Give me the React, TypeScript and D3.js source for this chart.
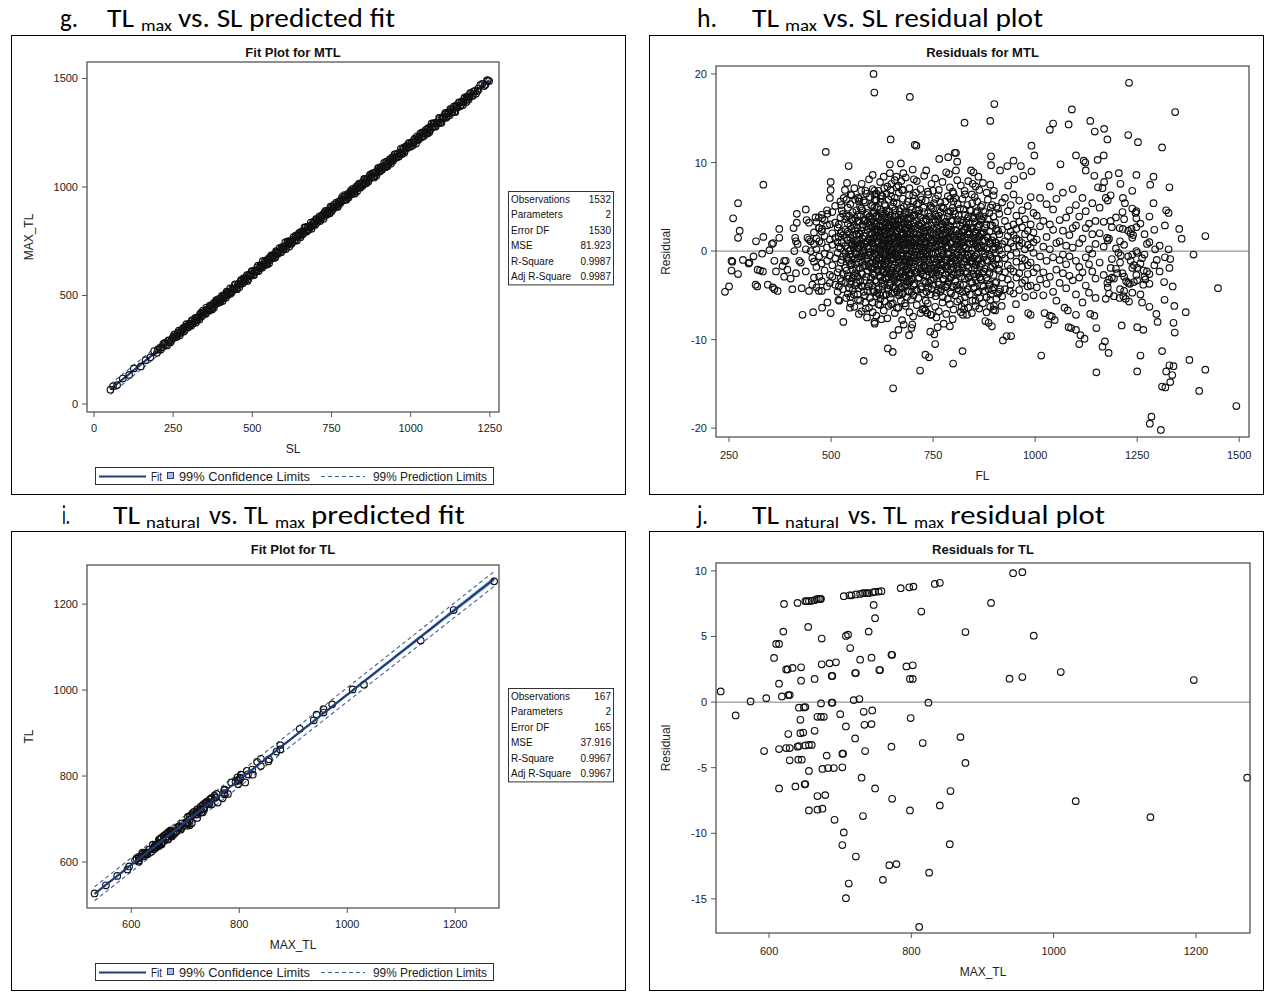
import React from "react";
import * as d3 from "d3";

// ---------- data ----------

// g: SL vs MAX_TL, points as [SL, residual about the fitted line]
const gFit = { b0: 6, b1: 1.19, mse: 81.923, n: 1532, t: 2.579 };
const gPoints: [number, number][] = [
  [52,-2],[60,4],[73,-6],[91,3],[111,-4],[126,8],[148,-9],[163,2],[178,-3],[190,12],[199,-7],[208,5],[216,-1],[224,9],[231,-11],[238,3],[244,-5],[251,7],[257,0],[262,-8],[268,13],[273,-3],[279,4],[284,-10],[289,6],[294,-2],
  [300,6],[304,-3],[309,11],[313,-8],[318,1],[322,-14],[326,4],[331,-2],[335,9],[340,-6],[344,15],[348,-1],[353,-10],[357,5],[362,-4],[366,12],[371,-7],[375,2],[379,-12],[384,7],[388,-3],[393,10],[397,-9],[401,3],
  [406,-15],[410,8],[415,-1],[419,13],[423,-6],[428,0],[432,-11],[437,6],[441,-4],[445,16],[450,-8],[454,2],[459,-13],[463,9],[467,-2],[472,11],[476,-7],[481,4],[485,-17],[489,7],[494,-3],[498,14],
  [503,-9],[507,1],[511,-5],[516,10],[520,-12],[525,5],[529,-1],[533,18],[538,-8],[542,3],[547,-14],[551,8],[555,-4],[560,12],[564,-6],[569,0],[573,-10],[577,7],[582,-2],[586,15],[591,-11],[595,4],[599,-7],
  [604,20],[608,-3],[613,9],[617,-15],[621,2],[626,-5],[630,13],[635,-9],[639,6],[643,-1],[648,11],[652,-13],[657,3],[661,-6],[665,17],[670,-4],[674,8],[679,-10],[683,1],[687,-16],[692,10],[696,-2],
  [701,12],[705,-8],[709,5],[714,-12],[718,0],[723,7],[727,-5],[731,14],[736,-9],[740,3],[745,-14],[749,9],[753,-3],[758,11],[762,-7],[767,2],[771,-11],[775,6],[780,-1],[784,16],[789,-6],[793,4],[797,-13],
  [802,8],[806,-4],[811,12],[815,-8],[819,1],[824,-17],[828,10],[833,-2],[837,14],[841,-10],[846,5],[850,-5],[855,9],[859,-12],[863,3],[868,-7],[872,13],[877,-1],[881,7],[885,-15],[890,2],[894,-4],[899,11],
  [903,-9],[907,6],[912,-3],[916,15],[921,-11],[925,0],[929,-6],[934,10],[938,-14],[943,4],[947,-2],[951,12],[956,-8],[960,7],[965,-5],[969,16],[973,-12],[978,3],[982,-7],[987,9],[991,-1],[995,13],
  [1000,-10],[1004,5],[1009,-4],[1013,11],[1017,-16],[1022,2],[1026,-6],[1031,14],[1035,-9],[1039,7],[1044,-2],[1048,10],[1053,-13],[1057,4],[1061,-7],[1066,17],[1070,-3],[1075,8],[1079,-11],[1083,1],[1088,-5],
  [1092,12],[1097,-15],[1101,6],[1105,-1],[1110,15],[1114,-8],[1119,3],[1123,-12],[1127,9],[1132,-4],[1136,13],[1141,-18],[1145,5],[1149,-6],[1154,11],[1158,-10],[1163,2],[1167,-3],[1171,14],[1176,-14],
  [1180,7],[1185,-2],[1190,10],[1196,-9],[1203,4],[1211,-5],[1220,12],[1232,-7],[1241,8],[1248,-3],
  [202,4],[211,-6],[219,10],[227,-2],[235,7],[241,-9],[248,1],[254,12],[260,-4],[265,6],[271,-12],[276,2],[282,9],[287,-5],[292,14],[297,-7],[302,0],[307,-11],[311,8],[316,-3],[320,10],[324,-6],[329,3],
  [333,-13],[338,12],[342,-4],[346,6],[351,-8],[355,16],[360,-1],[364,-9],[369,5],[373,-14],[377,9],[382,-2],[386,13],[391,-6],[395,1],[399,-10],[404,11],[408,-5],[413,4],[417,-12],[421,7],[426,-3],
  [430,15],[435,-8],[439,2],[443,-6],[448,10],[452,-15],[457,5],[461,-2],[465,12],[470,-9],[474,3],[479,-4],[483,13],[487,-11],[492,6],[496,-1],[501,9],[505,-14],[509,4],[514,-6],[518,15],[523,-3],
  [527,7],[531,-10],[536,1],[540,12],[545,-7],[549,3],[553,-16],[558,10],[562,-2],[567,6],[571,-12],[575,14],[580,-5],[584,2],[589,-8],[593,11],[597,-3],[602,5],[606,-13],[611,16],[615,-1],[619,8],
  [624,-10],[628,3],[633,-6],[637,12],[641,-15],[646,6],[650,-3],[655,9],[659,-8],[663,1],[668,13],[672,-11],[677,4],[681,-2],[685,15],[690,-7],[694,2],[699,-12],[703,8],[707,-4],[712,11],[716,-9],
  [721,3],[725,-15],[729,10],[734,-1],[738,6],[743,-7],[747,14],[751,-10],[756,2],[760,-4],[765,12],[769,-13],[773,5],[778,-6],[782,9],[787,-2],[791,15],[795,-9],[800,1],[804,-11],[809,7],[813,-3],
  [817,13],[822,-7],[826,4],[831,-14],[835,10],[839,-1],[844,6],[848,-10],[853,16],[857,-5],[861,2],[866,-12],[870,9],[875,-3],[879,11],[883,-8],[888,5],[892,-15],[897,13],[901,-1],[905,7],[910,-10],
  [914,2],[919,-6],[923,12],[927,-13],[932,4],[936,-3],[941,10],[945,-9],[949,15],[954,-2],[958,6],[963,-11],[967,1],[971,-5],[976,13],[980,-14],[985,8],[989,-3],[993,11],[998,-7],[1002,2],[1007,-12],
  [1011,9],[1015,-1],[1020,14],[1024,-8],[1028,5],[1033,-4],[1037,12],[1042,-11],[1046,3],[1050,-6],[1055,10],[1059,-14],[1064,6],[1068,-2],[1072,13],[1077,-9],[1081,4],[1086,-5],[1090,15],[1094,-12],
  [1099,2],[1103,-3],[1108,11],[1112,-10],[1116,7],[1121,-1],[1125,14],[1130,-7],[1134,3],[1138,-13],[1143,9],[1147,-4],[1152,12],[1156,-8],[1160,5],[1165,-15],[1169,10],[1174,-2],[1178,6],[1183,-11],
  [1188,13],[1193,-5],[1199,8],[1206,-12],[1214,3],[1226,10],[1236,-6],[1244,5],
];
const gStats: [string, string][] = [
  ["Observations", "1532"], ["Parameters", "2"], ["Error DF", "1530"],
  ["MSE", "81.923"], ["R-Square", "0.9987"], ["Adj R-Square", "0.9987"],
];

// h: residuals for MTL vs FL, scattered points
const hPoints: [number, number][] = [
  [604,20.0],[606,17.9],[693,17.4],[827,14.5],[487,11.2],[646,12.6],[705,12.0],[709,11.9],[334,7.5],[272,5.4],[260,3.7],[272,1.5],[276,2.3],[256,-1.1],[258,-1.2],[256,-2.2],[272,-2.6],[240,-4.6],[250,-4.0],
  [284,-1.0],[298,-1.4],[300,-1.3],[310,-0.6],[316,1.1],[334,1.6],[331,-0.3],[320,-2.1],[326,-2.2],[333,-2.3],[315,-3.8],[319,-4.0],[345,-3.8],[357,-4.1],[361,-4.3],[369,-4.5],[358,0.9],[355,0.8],[349,0.1],
  [361,-1.1],[365,-2.3],[373,2.5],[373,1.5],[385,-1.1],[389,-1.1],[381,-1.7],[393,-2.1],[385,-2.9],[401,-3.1],[405,-4.3],[408,2.6],[416,3.2],[416,4.2],[412,1.5],[414,1.1],[418,0.8],[410,0.0],[422,-1.1],
  [426,-1.3],[414,-2.5],[438,4.7],[440,3.5],[446,3.2],[442,1.5],[446,1.3],[450,1.1],[438,0.2],[450,0.0],[454,-0.8],[438,-2.3],[428,-4.2],[446,-4.5],[454,-3.8],[430,-7.2],[456,-6.9],[462,3.8],[470,3.8],
  [478,3.7],[470,2.6],[478,2.5],[491,4.2],[499,7.8],[499,6.9],[497,6.0],[543,9.6],[539,7.7],[534,6.9],[531,6.0],[525,5.2],[574,6.8],[580,5.7],[569,5.9],[606,6.8],[607,5.8],[606,4.9],[592,3.8],[630,7.1],
  [644,9.8],[671,9.9],[644,8.8],[660,8.4],[672,7.9],[648,7.6],[660,7.2],[677,8.8],[700,9.2],[703,8.1],[733,9.1],[765,10.4],[787,10.6],[803,11.1],[806,11.1],[809,10.1],[806,9.1],[789,8.7],[843,9.1],
  [849,8.9],[861,8.4],[847,7.6],[470,-4.5],[477,-4.5],[478,-6.4],[499,-7.0],[491,-5.8],[530,-8.0],[518,-5.5],[520,-5.6],[537,-5.3],[546,-6.4],[568,-7.1],[585,-6.5],[588,-7.5],[606,-8.0],[607,-8.2],
  [580,-12.4],[623,-7.7],[639,-11.0],[651,-11.4],[652,-9.5],[652,-15.5],[665,-8.9],[678,-8.3],[691,-9.5],[697,-8.7],[699,-8.3],[718,-13.5],[724,-6.6],[731,-6.7],[736,-7.0],[744,-7.2],[758,-7.5],
  [731,-11.7],[740,-12.0],[743,-9.1],[753,-9.4],[755,-10.5],[761,-8.6],[776,-8.2],[791,-8.5],[798,-7.7],[799,-12.7],[822,-11.3],[820,-6.3],[826,-6.6],[833,-7.2],[854,-6.2],[823,-7.2],
  [1230,19.0],[900,16.6],[890,14.7],[1090,16.0],[1343,15.7],[1036,13.7],[1044,14.4],[1082,14.3],[1135,14.7],[1146,13.5],[1169,13.8],[1177,12.6],[1228,13.1],[1252,12.3],[1311,11.7],[991,11.9],[998,10.8],
  [892,10.7],[892,9.7],[914,9.1],[932,9.6],[947,10.2],[965,9.6],[991,9.0],[971,8.5],[949,8.1],[934,7.4],[1062,9.8],[1100,10.8],[1119,10.2],[1123,10.0],[1124,9.1],[1145,8.5],[1154,7.2],[1165,7.1],
  [1169,7.8],[1153,10.3],[1168,10.8],[1180,8.6],[1205,8.8],[1209,7.6],[1248,8.6],[1238,6.8],[1248,4.5],[1290,8.4],[1282,7.5],[1290,5.4],[1329,7.2],[1321,4.6],[1327,4.3],[1353,2.5],[1359,1.4],[1417,1.7],
  [1388,-0.4],[1448,-4.2],[1493,-17.5],[1285,-18.7],[1281,-19.5],[1308,-20.2],[1311,-11.3],[1329,-12.9],[1339,-13.0],[1321,-13.6],[1336,-14.0],[1331,-14.8],[1319,-15.4],[1311,-15.3],[1378,-12.3],
  [1417,-13.4],[1402,-15.8],[1250,-13.6],[1258,-11.8],[1150,-13.7],[1015,-11.8],[1300,-8.0],[1339,-8.1],[1342,-9.2],[1369,-6.9],[1317,-5.5],[1341,-6.2],[1250,-8.6],[1265,-8.9],[1212,-8.4],[1165,-10.8],
  [1180,-11.5],[1171,-10.2],[1150,-8.7],[1108,-10.5],[1121,-9.9],[1111,-9.5],[1100,-8.9],[1088,-8.7],[1082,-8.6],[1135,-7.1],[1145,-7.3],[1100,-7.2],[1072,-6.4],[1080,-6.7],[1048,-7.8],[1041,-7.4],
  [1036,-7.3],[1023,-7.0],[1032,-8.3],[983,-7.0],[989,-7.2],[953,-6.0],[940,-7.7],[930,-9.6],[941,-9.6],[921,-10.1],[878,-7.9],[886,-8.1],[894,-8.5],[890,-6.3],[898,-6.6],[902,-6.7],[918,-6.2],
  [938,-4.5],[914,-4.3],[886,-4.3],[1274,0.8],[1294,0.2],[1298,-1.0],[1327,0.2],[1331,-0.9],[1329,-1.9],[1316,-3.5],[1337,-4.0],[1297,-7.1],[1280,-6.3],[1262,-5.8],[1230,-5.7],[1222,-5.4],[1216,-5.1],
  [1207,-5.3],[1193,-5.1],[1181,-4.8],[1173,-5.4],[1238,-4.7],[1218,-4.5],[1265,-3.8],[1270,-3.2],[1250,-3.3],[1242,-3.5],[1266,-2.2],[1274,-2.3],[1280,-2.6],[1250,-1.9],[1242,-1.6],[1234,-1.1],
  [1238,-0.4],[1250,-0.2],[1262,-0.8],[1234,2.0],[1240,1.8],[1248,3.7],[1246,4.3],[1236,2.5],[1215,2.5],[1207,2.6],[1220,5.4],[1214,4.4],[1215,6.0],[1204,-0.2],[1210,-0.5],[1201,-2.5],[1214,-2.5],
  [1223,-3.4],[1232,-3.7],[1185,-1.9],[1181,-3.2],[1193,-3.1],[1177,-3.6],[1176,1.5],[1181,1.4],[1185,3.4],[1185,6.3],[1173,6.0],
];

// h: the dense core, as [FL, residuals at that FL]
const hCore: [number, number[]][] = [
  [458,[-1.2,0.8,2.1,-3.0]],[464,[3.3,0.2,-1.8,1.4,-4.1]],[471,[-0.6,2.6,-2.9,1.1]],[477,[4.1,0.9,-1.4,-3.4,2.2]],[484,[-2.2,1.7,3.5,-0.3]],
  [490,[0.4,-1.1,2.9,-4.0,4.6]],[497,[-2.7,1.3,-0.5,3.0,-3.6]],[503,[2.0,-1.6,0.7,4.4,-2.9]],[510,[-0.8,3.2,-3.8,1.5,5.1]],[516,[1.0,-2.4,2.7,-0.2,-4.6]],
  [523,[3.8,-1.3,0.3,-3.1,2.0,5.6]],[529,[-0.6,1.8,-2.6,4.2,-4.3]],[535,[2.4,-1.9,0.6,3.6,-3.5,-0.2]],
  [541,[4.9,1.2,-0.9,-2.8,3.1,-4.8,0.3,2.2]],[547,[-1.6,2.8,0.1,-3.7,5.3,1.5,-5.2,-0.4]],[553,[3.4,-2.1,0.9,4.4,-3.0,1.8,-0.6,-4.4]],
  [559,[-0.2,2.3,-1.5,5.8,-3.9,3.7,0.7,-2.5]],[565,[1.1,-2.9,4.1,-0.8,2.6,-4.9,0.4,3.3]],[571,[-1.9,0.6,3.9,-3.4,1.9,-0.3,5.0,-5.6]],
  [577,[2.7,-1.2,0.0,4.6,-2.6,1.4,-4.0,3.0]],[583,[-0.5,3.5,-3.3,1.7,5.5,-1.7,0.8,-5.0]],[589,[4.3,-2.2,0.5,2.4,-0.9,-4.5,3.2,1.0]],
  [595,[-1.4,1.3,-3.6,6.1,2.9,-0.1,-5.3,3.9]],
  [601,[0.9,-2.0,3.6,-0.7,5.1,-3.9,1.9,-5.8,2.7,-1.3]],[606,[-0.3,2.2,-2.7,4.4,0.5,-4.6,6.4,1.4,-1.8,3.1]],
  [611,[3.0,-1.1,0.2,-3.5,2.5,5.7,-0.5,-5.1,1.7,4.0]],[616,[-2.3,1.0,3.9,-0.9,-4.3,2.1,6.8,-1.6,0.4,-6.0]],
  [621,[1.6,-3.0,0.0,4.7,-1.4,2.8,-5.4,3.4,-0.2,5.9]],[626,[-0.8,2.9,-2.1,1.2,-4.0,4.2,0.6,-3.3,6.2,-1.0]],
  [631,[2.4,-1.7,0.8,3.7,-3.8,-0.4,5.3,1.5,-5.7,2.0]],[636,[-1.2,0.3,4.5,-2.5,1.9,-4.9,3.2,-0.6,6.5,-3.1]],
  [641,[3.5,-0.1,-2.9,1.4,5.8,-1.5,-4.4,2.6,0.9,-6.2]],[646,[0.4,-2.4,2.1,-0.8,4.0,-3.6,1.2,6.9,-5.3,3.0]],
  [651,[-1.9,1.7,-4.1,3.3,0.0,-2.8,5.0,2.3,-0.5,-5.9]],[656,[2.8,-0.4,0.7,-3.3,4.6,1.5,-1.6,-4.7,3.9,6.0]],
  [661,[-0.6,3.0,-2.0,1.1,-4.5,5.4,0.3,-2.9,2.2,-6.4]],[666,[1.3,-1.3,4.1,-3.7,0.6,2.9,-0.9,6.6,-5.0,3.6]],
  [671,[-2.6,0.9,2.5,-0.2,-4.2,4.8,1.8,-1.7,-5.6,3.3]],[676,[3.9,-1.0,0.2,-3.0,2.0,5.9,-4.8,1.0,-2.2,6.9]],
  [681,[-0.9,2.4,-2.7,4.4,0.7,-4.0,3.1,-1.4,1.6,-5.9]],[686,[1.9,-2.1,0.3,3.6,-3.4,5.2,-0.6,2.7,-5.2,-1.0]],
  [691,[-1.5,0.8,4.3,-2.8,1.5,-4.6,6.3,-0.3,2.9,-3.6]],[696,[2.6,-0.7,-3.1,1.2,5.0,-1.9,0.4,-5.5,3.7,-2.5]],
  [702,[0.6,-1.8,3.2,-3.9,1.9,5.6,-0.5,-5.0,4.0]],[708,[-2.4,1.4,4.6,-0.1,2.6,-4.4,6.6,-1.1,0.3]],
  [714,[3.0,-0.9,0.9,-3.1,5.4,1.7,-5.3,-2.0,4.2]],[720,[-1.3,2.1,-4.3,0.4,3.8,-2.5,6.1,1.2,-0.4]],
  [726,[1.6,-2.7,4.9,-0.6,2.6,-4.8,0.0,3.4,-1.7]],[732,[-0.2,3.6,-1.9,1.0,-3.6,5.7,2.3,-5.6,0.7]],
  [738,[2.8,-1.1,0.2,-4.1,4.3,1.5,-2.3,6.4,-0.6]],[744,[-2.0,0.9,3.9,-0.9,2.0,-3.3,5.1,-4.9,1.3]],
  [750,[0.3,-1.6,2.5,4.8,-3.8,1.1,-0.4,6.8,-2.6]],[756,[3.3,-0.2,-2.8,1.8,-5.1,4.1,0.6,-1.3,5.9]],
  [762,[-1.0,2.2,0.0,-3.5,3.6,-1.9,6.3,1.4,-4.4]],[768,[1.2,-2.3,4.4,-0.6,2.7,-4.6,0.5,5.5,-1.5]],
  [774,[-0.4,3.0,-1.6,1.9,-3.1,4.9,-5.2,0.8,2.4]],[780,[2.1,-0.9,0.4,-2.7,5.6,3.3,-4.1,1.2,-1.8]],
  [786,[-1.7,1.5,3.9,-0.3,-3.8,2.5,6.2,-5.4,0.6]],[792,[0.9,-2.1,2.8,4.5,-0.8,-4.6,1.6,5.9,-3.0]],
  [798,[-0.6,3.4,0.2,-2.6,1.7,-4.0,4.9,-1.4,6.7]],
  [804,[2.4,-1.0,0.5,-3.4,4.2,-5.0,1.3,6.0]],[810,[-1.8,1.8,-0.2,3.5,-4.2,5.3,0.9,-2.6]],[816,[0.7,-2.4,2.9,-0.7,4.8,-5.5,1.6,-3.8]],
  [822,[3.2,-0.5,-1.9,1.1,-4.6,5.9,2.1,-0.1]],[828,[-1.2,2.4,0.3,-3.1,4.1,-5.2,1.5,6.4]],[834,[1.9,-1.6,3.7,-0.4,-4.3,2.6,5.2,-2.5]],
  [840,[-0.7,0.8,-2.8,4.6,1.9,-4.9,3.1,-1.2]],[846,[2.6,-1.4,0.1,-3.6,5.4,1.1,-5.6,3.8]],[852,[-1.9,1.5,3.3,-0.6,-4.1,2.2,6.1,-2.9]],
  [858,[0.5,-2.2,2.7,4.5,-1.1,-4.7,1.2,5.6]],[864,[-0.9,3.0,-3.0,1.6,-5.3,4.0,0.4,-1.8]],[870,[2.0,-1.4,0.0,-3.9,3.5,5.2,-2.5,1.1]],
  [877,[-0.3,2.6,-2.0,4.4,-4.5,1.2]],[884,[1.5,-1.1,3.6,-3.3,0.4,5.8]],[891,[-1.9,0.8,2.9,-4.9,4.9,-0.6]],[898,[0.2,-2.7,3.9,1.6,-4.1,6.3]],
  [905,[2.5,-0.9,-3.5,0.9,5.0,-5.4]],[912,[-1.5,1.9,4.2,-2.2,0.1,-4.6]],[919,[0.8,-3.0,2.4,5.5,-0.4,-5.1]],[926,[-2.4,1.1,3.4,-0.8,-4.3,6.0]],
  [933,[1.7,-1.6,0.3,4.5,-3.2,2.8]],[940,[-0.5,2.2,-3.8,5.2,0.9,-2.0]],[947,[3.0,-2.3,0.5,-4.8,1.8,6.4]],[954,[-1.2,1.4,4.0,-3.0,-0.2,2.5]],
  [961,[0.6,-2.5,3.3,-4.4,5.7,1.2]],[968,[-0.8,2.7,-1.8,0.9,4.6,-3.6]],[975,[1.9,-3.3,0.2,3.6,-5.2,-1.0]],[982,[-1.6,0.7,2.3,-2.6,5.1,-4.0]],
  [989,[0.4,3.0,-1.3,-3.9,1.5,6.1]],[996,[-0.2,2.1,-2.4,4.3,-5.0,1.0]],
  [1004,[1.3,-1.9,4.0,-4.1]],[1012,[-0.6,2.8,-3.2,6.0]],[1020,[3.4,-2.4,0.5,-5.0]],[1028,[-1.1,1.6,5.3,-3.7]],[1036,[0.2,-2.9,3.0,7.3]],
  [1044,[2.4,-0.7,-4.6,4.7]],[1052,[-2.1,0.9,5.9,-5.6]],[1060,[1.1,-3.6,3.5,-1.0]],[1068,[-0.4,2.3,-2.5,6.6]],[1076,[3.8,-1.5,0.6,-4.2]],
  [1084,[-2.8,1.8,4.6,-0.6]],[1092,[0.4,-3.3,2.6,7.0]],[1100,[2.9,-1.1,-4.9,5.2]],[1108,[-1.8,0.9,3.9,-3.0]],[1116,[1.4,-2.4,6.0,-5.8]],
  [1124,[-0.7,2.6,-3.9,4.5]],[1132,[3.1,-1.5,0.2,-4.7]],[1140,[-2.3,1.9,5.4,-0.3]],[1148,[0.8,-3.1,3.4,-5.3]],
  [1158,[2.0,-1.3,4.9]],[1168,[-2.7,0.5,3.3]],[1178,[1.2,-4.1,5.7]],[1188,[-0.9,2.7,-3.0]],[1198,[3.8,-2.0,0.3]],[1208,[-1.3,1.1,-4.3]],
  [1218,[0.7,-2.9,3.6]],[1228,[2.3,-0.6,-3.6]],[1238,[-1.9,1.5,4.8]],[1248,[0.0,-2.7,2.7]],[1258,[3.1,-1.4,-4.9]],[1268,[-0.4,1.9,-2.9]],
  [1280,[1.0,-3.7,3.9]],[1292,[-1.6,2.4]],[1305,[0.6,-2.3]],[1318,[2.9,-0.7]],
];

// h: the darkest part of the cloud, more records between FL 520 and 910
const hCore2: [number, number[]][] = [
  [519,[0.5,-2.0,3.0,-4.0,1.6]],[526,[-1.0,2.2,-3.4,0.9,4.6]],[538,[1.5,-0.7,-2.2,3.9,5.8]],[544,[0.0,-3.1,2.0,-1.1,4.0,-4.2]],
  [550,[2.5,-1.4,0.7,-3.4,3.6,6.3]],[556,[-0.9,1.2,-2.8,2.9,-4.9,0.4]],[562,[1.9,-0.4,4.6,-2.0,-3.6,0.9]],[568,[-1.3,2.0,0.3,-4.2,3.4,5.6]],
  [574,[0.8,-2.5,2.3,-0.6,4.8,-3.9]],[580,[-0.2,1.7,-1.6,3.5,-4.6,0.5]],[586,[2.8,-0.9,1.0,-2.9,4.1,6.5]],[592,[-1.7,0.3,2.6,-4.0,1.4,-0.5]],
  [598,[0.9,-1.9,3.3,-3.0,5.2,1.9]],[603,[-0.6,1.5,-2.5,2.8,-4.4,4.3,0.2]],[608,[1.8,-0.3,-3.3,3.9,0.9,-1.5,5.8]],[613,[-1.6,2.4,0.4,-2.1,4.9,-4.7,1.1]],
  [618,[0.2,-2.8,2.9,-0.8,1.7,-4.9,3.8]],[623,[2.1,-1.0,0.7,-3.6,4.4,-2.2,6.3]],[628,[-0.4,1.6,-2.4,3.3,0.3,-5.0,2.5]],[633,[1.1,-1.5,4.2,-3.0,2.2,-0.2,5.1]],
  [638,[-2.0,0.6,2.7,-1.0,-4.2,3.7,1.3]],[643,[0.7,-2.6,1.9,4.5,-0.5,-3.9,2.9]],[648,[-1.0,2.6,0.0,-2.2,3.5,-4.8,1.5]],[653,[1.4,-0.8,3.0,-3.1,5.5,0.5,-1.9]],
  [658,[-0.2,2.0,-2.6,1.0,4.1,-4.2,2.9]],[663,[2.3,-1.9,0.4,3.4,-0.7,-3.5,1.6]],[668,[-1.1,1.2,-3.0,2.5,4.5,0.2,-4.7]],[673,[0.6,-2.3,2.0,-0.6,3.6,-4.0,1.4]],
  [678,[-1.8,0.7,3.2,-2.9,1.9,5.0,-0.3]],[683,[1.0,-1.2,2.6,-3.8,0.1,4.1,-2.4]],[688,[-0.5,2.2,-1.7,1.3,-4.5,3.0,5.6]],[693,[1.7,-2.6,0.6,3.8,-1.0,-3.4,2.1]],
  [698,[-1.3,1.0,-3.2,2.4,4.7,0.0,-4.6]],[704,[0.9,-2.2,2.8,-0.8,-3.7,4.1,1.5]],[710,[-0.5,1.9,-2.4,3.4,0.6,-4.4,5.3]],[716,[1.8,-1.3,0.2,-3.0,2.9,4.6,-0.6]],
  [722,[-1.9,0.8,3.1,-2.2,1.5,-4.0,5.8]],[728,[0.4,-1.6,2.2,-3.4,4.4,1.0,-0.9]],[734,[-1.0,2.7,-0.4,-2.8,1.7,-4.6,3.5]],[740,[1.5,-2.0,0.6,3.9,-1.3,-3.6,2.4]],
  [746,[-0.3,1.2,-2.5,2.9,4.9,-4.3,0.5]],[752,[2.0,-0.9,-3.1,1.1,3.6,-1.9,5.4]],[758,[-1.5,0.4,2.6,-2.4,1.5,-4.7,3.9]],[764,[0.7,-2.7,1.8,4.0,-0.7,-3.8,2.9]],
  [770,[-0.9,1.6,-2.1,3.1,0.1,-4.3,5.0]],[776,[1.3,-1.3,3.7,-3.2,2.4,-0.4,4.8]],[782,[-2.0,0.5,2.0,-1.0,-4.0,3.3,1.1]],[788,[0.3,-2.4,2.9,-0.4,4.3,-3.5,1.6]],
  [794,[-1.2,1.9,-3.0,0.8,3.4,-4.8,2.4]],[800,[1.6,-0.8,0.4,-2.7,4.5,-1.8,5.6]],[807,[-0.4,2.3,-1.5,3.0,-3.9,0.7]],[813,[1.2,-2.0,2.0,-0.5,4.0,-4.4]],
  [819,[-1.5,0.9,3.5,-2.9,1.6,-0.2]],[825,[0.6,-1.2,2.4,-3.8,4.7,1.0]],[831,[-0.8,2.7,-2.3,0.4,3.2,-4.6]],[837,[1.5,-1.9,0.2,3.9,-3.0,2.2]],
  [843,[-1.1,1.4,-3.5,2.6,-0.3,4.6]],[849,[0.9,-2.6,1.8,-0.8,3.7,-4.2]],[855,[-0.4,2.1,-1.6,4.3,0.7,-3.3]],[861,[1.7,-0.9,2.8,-2.6,-4.6,0.3]],
  [867,[-1.4,0.6,3.6,-3.2,1.9,5.0]],[874,[0.5,-2.3,2.1,-0.7,3.9,-4.0]],[881,[-1.0,1.7,-3.0,3.0,0.2,-5.2]],[888,[2.2,-0.4,0.9,-2.5,4.3,-3.8]],
  [895,[-0.8,2.9,-1.7,1.2,-4.4,5.2]],[902,[1.0,-1.5,3.2,-3.6,0.4,-0.2]],[909,[-2.0,0.6,2.3,-0.9,4.8,-4.8]],
];

// h: outer ring of the dense cloud
const hRing: [number, number[]][] = [
  [548,[6.4,-5.9]],[557,[7.1,-6.3]],[566,[6.0,-5.5]],[575,[7.6,-6.8]],[584,[6.8,-5.8]],[593,[8.1,-6.4]],[602,[7.0,-6.9,8.6]],[611,[6.5,-7.3]],
  [620,[7.8,-6.1]],[629,[8.4,-6.7]],[638,[7.3,-7.6]],[647,[6.2,-6.0]],[656,[8.0,-7.0]],[665,[7.4,-6.4]],[674,[6.9,-7.8]],[683,[8.3,-6.2]],
  [692,[7.1,-6.9]],[701,[6.3,-7.4]],[710,[7.9,-6.1]],[719,[7.0,-7.0]],[728,[8.5,-6.5]],[737,[6.7,-5.9]],[746,[7.6,-7.2]],[755,[8.2,-6.3]],
  [764,[6.9,-6.8]],[773,[7.8,-5.8]],[782,[8.9,-7.1]],[791,[7.2,-6.0]],[800,[6.5,-6.6]],[809,[8.0,-5.7]],[818,[7.4,-6.9]],[827,[6.8,-5.9]],
  [836,[7.9,-6.4]],[845,[6.4,-7.0]],[854,[7.3,-5.6]],[863,[6.9,-6.5]],[872,[7.7,-5.9]],[881,[6.6,-6.9]],[890,[7.5,-5.5]],[899,[6.8,-6.2]],
];

// j: residuals for TL vs MAX_TL, [MAX_TL, residual]; panel i uses the same records
const jPoints: [number, number][] = [
  [532,0.81],[553,-1.02],[574,0.05],[596,0.3],[607,3.36],[610,4.43],[614,4.43],[614,1.4],[618,0.43],[620,5.37],[621,7.48],[624,2.49],[626,2.49],[627,0.53],[629,0.53],[627,-2.44],
  [633,2.6],[640,7.56],[642,-0.43],[644,-1.35],[645,2.65],[645,1.63],[644,-2.37],[648,-2.32],[649,-0.41],[651,-0.38],
  [651,7.69],[653,7.69],[656,7.69],[660,7.72],[664,7.77],[667,7.84],[670,7.87],[672,7.84],[673,7.87],
  [655,5.73],[664,1.76],[664,-2.19],[668,-1.12],[673,-1.12],[677,-1.12],[673,-0.1],[674,4.84],[674,2.88],[685,2.95],[694,3.03],[688,1.99],[689,1.99],[688,-0.05],[689,-0.05],[700,-0.92],
  [705,8.07],[713,8.14],[716,8.14],[722,8.2],[728,8.24],[732,8.3],[735,8.3],[738,8.3],[740,8.3],[746,8.37],[749,8.4],[754,8.42],[758,8.45],
  [708,5.04],[711,5.14],[708,-1.86],[714,4.12],[719,0.15],[727,0.23],[721,2.21],[722,2.21],[721,-2.77],[728,3.23],[733,-0.74],[734,-1.73],[740,5.37],[744,3.38],[745,-0.64],[744,-1.68],
  [747,7.4],[749,6.39],[755,2.44],[756,2.44],[772,3.6],[773,3.6],[785,8.68],[793,2.72],[797,8.75],[803,8.8],[802,2.8],[798,1.76],[802,1.76],[799,-1.22],[814,6.9],[824,-0.05],[833,9.0],[840,9.09],
  [869,-2.67],[876,5.34],[912,7.56],[938,1.78],[943,9.82],[956,1.91],[956,9.9],[972,5.06],[1010,2.29],[1197,1.68],
  [816,-3.12],[593,-3.73],[614,-3.58],[624,-3.5],[629,-3.5],[640,-3.4],[642,-3.35],[651,-3.3],[656,-3.27],[660,-3.27],[629,-4.44],[641,-4.39],[646,-4.39],[681,-4.08],[703,-3.93],[704,-3.93],
  [735,-3.73],[772,-3.4],[656,-5.25],[675,-5.1],[683,-5.03],[691,-5.03],[703,-4.97],[730,-5.76],[876,-4.64],[614,-6.58],[637,-6.43],[650,-6.27],[651,-6.25],[749,-6.58],[668,-7.16],[679,-7.09],
  [773,-7.37],[855,-6.78],[656,-8.26],[668,-8.2],[675,-8.13],[732,-8.69],[798,-8.26],[840,-7.88],[692,-8.97],[705,-9.94],[703,-10.9],[854,-10.83],[722,-11.77],[769,-12.43],[779,-12.35],
  [825,-13.0],[712,-13.83],[760,-13.55],[708,-14.95],[811,-17.14],[1031,-7.55],[1136,-8.77],[1272,-5.76],
];
const iFit = { b0: -0.6, b1: 0.99, mse: 37.916, n: 167, t: 2.605 };
const iStats: [string, string][] = [
  ["Observations", "167"], ["Parameters", "2"], ["Error DF", "165"],
  ["MSE", "37.916"], ["R-Square", "0.9967"], ["Adj R-Square", "0.9967"],
];

// ---------- drawing ----------
const FONT = "'Liberation Sans', Arial, sans-serif";
const HFONT = "Carlito, 'Open Sans', 'Noto Sans', sans-serif";
const FIT = "#1d3c7a";
const DASH = "#3f5f9f";
const CLM = "#a9c0de";

type Box = { left: number; top: number; right: number; bottom: number };
type Lin = d3.ScaleLinear<number, number>;

function Axes(p: {
  box: Box; x: Lin; y: Lin; xTicks: number[]; yTicks: number[]; title: string; titleY: number;
  xLabel: string; xLabelY: number; tickY: number; yLabel: string; yLabelX: number;
}) {
  const { box, x, y } = p;
  const cx = (box.left + box.right) / 2;
  const cy = (box.top + box.bottom) / 2;
  return (
    <g fontFamily={FONT} fill="#222">
      <rect x={box.left} y={box.top} width={box.right - box.left} height={box.bottom - box.top} fill="none" stroke="#555" strokeWidth={1.3} />
      {p.xTicks.map((t) => (
        <g key={"x" + t}>
          <line x1={x(t)} x2={x(t)} y1={box.bottom} y2={box.bottom + 5} stroke="#555" />
          <text x={x(t)} y={p.tickY} textAnchor="middle" fontSize={11}>{t}</text>
        </g>
      ))}
      {p.yTicks.map((t) => (
        <g key={"y" + t}>
          <line x1={box.left - 5} x2={box.left} y1={y(t)} y2={y(t)} stroke="#555" />
          <text x={box.left - 9} y={y(t) + 4} textAnchor="end" fontSize={11}>{t}</text>
        </g>
      ))}
      <text x={cx} y={p.titleY} textAnchor="middle" fontSize={13} fontWeight="bold" fill="#111">{p.title}</text>
      <text x={cx} y={p.xLabelY} textAnchor="middle" fontSize={12}>{p.xLabel}</text>
      <text transform={`translate(${p.yLabelX},${cy}) rotate(-90)`} textAnchor="middle" fontSize={12}>{p.yLabel}</text>
    </g>
  );
}

function Dots({ pts, x, y }: { pts: [number, number][]; x: Lin; y: Lin }) {
  return (
    <g fill="none" stroke="#111" strokeWidth={1.15}>
      {pts.map((d, i) => <circle key={i} cx={x(d[0])} cy={y(d[1])} r={3.3} />)}
    </g>
  );
}

function FitLayer({ xs, fit, x, y }: { xs: number[]; fit: any; x: Lin; y: Lin }) {
  const xbar = d3.mean(xs)!;
  const sxx = d3.variance(xs)! * (fit.n - 1);
  const yhat = (v: number) => fit.b0 + fit.b1 * v;
  const seM = (v: number) => Math.sqrt(fit.mse * (1 / fit.n + (v - xbar) ** 2 / sxx));
  const seP = (v: number) => Math.sqrt(fit.mse + seM(v) ** 2);
  const [x0, x1] = d3.extent(xs) as [number, number];
  const grid = d3.range(0, 81).map((i) => x0 + ((x1 - x0) * i) / 80);
  const band = d3.area<number>().x((v) => x(v)).y0((v) => y(yhat(v) - fit.t * seM(v))).y1((v) => y(yhat(v) + fit.t * seM(v)));
  const ln = (f: (v: number) => number) => d3.line<number>().x((v) => x(v)).y((v) => y(f(v)))(grid)!;
  return {
    band: <path d={band(grid)!} fill={CLM} />,
    fitLine: <path d={ln(yhat)} fill="none" stroke={FIT} strokeWidth={2.2} />,
    limits: (
      <g fill="none" stroke={DASH} strokeWidth={1.1} strokeDasharray="4,3">
        <path d={ln((v) => yhat(v) + fit.t * seP(v))} />
        <path d={ln((v) => yhat(v) - fit.t * seP(v))} />
      </g>
    ),
  };
}

function Stats({ x, y, rows }: { x: number; y: number; rows: [string, string][] }) {
  const rh = 15.4;
  return (
    <g fontFamily={FONT} fontSize={10} fill="#111">
      <rect x={x + 0.5} y={y + 0.5} width={105} height={rows.length * rh + 1} fill="#fff" stroke="#333" />
      {rows.map(([k, v], i) => (
        <g key={k}>
          <text x={x + 3} y={y + 12 + i * rh}>{k}</text>
          <text x={x + 103} y={y + 12 + i * rh} textAnchor="end">{v}</text>
        </g>
      ))}
    </g>
  );
}

function Legend({ x, y }: { x: number; y: number }) {
  return (
    <g fontFamily={FONT} fontSize={12} fill="#222">
      <rect x={x + 0.5} y={y + 0.5} width={398} height={17} fill="#fff" stroke="#333" />
      <line x1={x + 4} x2={x + 51} y1={y + 9.5} y2={y + 9.5} stroke={FIT} strokeWidth={2.2} />
      <text x={x + 56} y={y + 13.5} textLength={11} lengthAdjust="spacingAndGlyphs">Fit</text>
      <rect x={x + 72.5} y={y + 5.5} width={6} height={6} fill={CLM} stroke={FIT} />
      <text x={x + 84} y={y + 13.5} textLength={131} lengthAdjust="spacingAndGlyphs">99% Confidence Limits</text>
      <line x1={x + 226} x2={x + 270} y1={y + 9.5} y2={y + 9.5} stroke={DASH} strokeWidth={1.1} strokeDasharray="4,3" />
      <text x={x + 278} y={y + 13.5} textLength={114} lengthAdjust="spacingAndGlyphs">99% Prediction Limits</text>
    </g>
  );
}

type Piece = [string, number, number, boolean];
function Header({ y, pieces }: { y: number; pieces: Piece[] }) {
  return (
    <g fontFamily={HFONT} fill="#000">
      {pieces.map(([t, x0, x1, sub], i) => (
        <text key={i} x={x0} y={sub ? y + 4 : y} fontSize={sub ? 17 : 26} textLength={x1 - x0} lengthAdjust="spacingAndGlyphs">{t}</text>
      ))}
    </g>
  );
}

function PanelG() {
  const box = { left: 87, top: 62, right: 499, bottom: 412 };
  const x = d3.scaleLinear().domain([-22, 1279]).range([box.left, box.right]);
  const y = d3.scaleLinear().domain([-37, 1576]).range([box.bottom, box.top]);
  const pts = gPoints.map(([s, r]) => [s, gFit.b0 + gFit.b1 * s + r] as [number, number]);
  const f = FitLayer({ xs: gPoints.map((d) => d[0]), fit: gFit, x, y });
  return (
    <g>
      {f.band}
      {f.limits}
      {f.fitLine}
      <Dots pts={pts} x={x} y={y} />
      <Axes box={box} x={x} y={y} xTicks={[0, 250, 500, 750, 1000, 1250]} yTicks={[0, 500, 1000, 1500]} title="Fit Plot for MTL" titleY={57}
        xLabel="SL" xLabelY={453} tickY={432} yLabel="MAX_TL" yLabelX={33} />
      <Stats x={508} y={191} rows={gStats} />
      <Legend x={95} y={467} />
    </g>
  );
}

function PanelI() {
  const box = { left: 87, top: 565, right: 499, bottom: 908 };
  const x = d3.scaleLinear().domain([518, 1281]).range([box.left, box.right]);
  const y = d3.scaleLinear().domain([493, 1291]).range([box.bottom, box.top]);
  const pts = jPoints.map(([m, r]) => [m, iFit.b0 + iFit.b1 * m + r] as [number, number]);
  const f = FitLayer({ xs: jPoints.map((d) => d[0]), fit: iFit, x, y });
  return (
    <g>
      {f.band}
      {f.limits}
      <Dots pts={pts} x={x} y={y} />
      {f.fitLine}
      <Axes box={box} x={x} y={y} xTicks={[600, 800, 1000, 1200]} yTicks={[600, 800, 1000, 1200]} title="Fit Plot for TL" titleY={554}
        xLabel="MAX_TL" xLabelY={949} tickY={928} yLabel="TL" yLabelX={33} />
      <Stats x={508} y={688} rows={iStats} />
      <Legend x={95} y={963} />
    </g>
  );
}

function PanelH() {
  const box = { left: 716, top: 66, right: 1249, bottom: 437 };
  const x = d3.scaleLinear().domain([218, 1524]).range([box.left, box.right]);
  const y = d3.scaleLinear().domain([-21, 20.9]).range([box.bottom, box.top]);
  const cols = [...hCore, ...hCore2, ...hRing];
  const pts: [number, number][] = [...hPoints, ...cols.flatMap(([fl, rs]) => rs.map((r) => [fl, r] as [number, number]))];
  return (
    <g>
      <line x1={box.left} x2={box.right} y1={y(0)} y2={y(0)} stroke="#999" strokeWidth={1.2} />
      <Dots pts={pts} x={x} y={y} />
      <Axes box={box} x={x} y={y} xTicks={[250, 500, 750, 1000, 1250, 1500]} yTicks={[-20, -10, 0, 10, 20]} title="Residuals for MTL" titleY={57}
        xLabel="FL" xLabelY={480} tickY={459} yLabel="Residual" yLabelX={670} />
    </g>
  );
}

function PanelJ() {
  const box = { left: 716, top: 563, right: 1250, bottom: 933 };
  const x = d3.scaleLinear().domain([525.4, 1276]).range([box.left, box.right]);
  const y = d3.scaleLinear().domain([-17.6, 10.6]).range([box.bottom, box.top]);
  return (
    <g>
      <line x1={box.left} x2={box.right} y1={y(0)} y2={y(0)} stroke="#999" strokeWidth={1.2} />
      <Dots pts={jPoints} x={x} y={y} />
      <Axes box={box} x={x} y={y} xTicks={[600, 800, 1000, 1200]} yTicks={[-15, -10, -5, 0, 5, 10]} title="Residuals for TL" titleY={554}
        xLabel="MAX_TL" xLabelY={976} tickY={955} yLabel="Residual" yLabelX={670} />
    </g>
  );
}

export default function App() {
  return (
    <svg width={1264} height={992} style={{ position: "absolute", left: 0, top: 0, display: "block", background: "#fff" }}>
      <rect x={0} y={0} width={1264} height={992} fill="#fff" />
      <Header y={27} pieces={[["g.", 60, 78, false], ["TL", 107, 134, false], ["max", 141, 172, true], ["vs. SL predicted fit", 178, 395, false]]} />
      <Header y={27} pieces={[["h.", 697, 717, false], ["TL", 752, 779, false], ["max", 785, 817, true], ["vs. SL residual plot", 823, 1043, false]]} />
      <Header y={524} pieces={[["i.", 62, 70, false], ["TL", 113, 140, false], ["natural", 146, 200, true], ["vs. TL", 209, 268, false], ["max", 275, 305, true], ["predicted fit", 311, 465, false]]} />
      <Header y={524} pieces={[["j.", 697, 708, false], ["TL", 752, 779, false], ["natural", 785, 839, true], ["vs. TL", 848, 907, false], ["max", 914, 944, true], ["residual plot", 950, 1105, false]]} />
      <g fill="none" stroke="#000" strokeWidth={1}>
        <rect x={11.5} y={35.5} width={614} height={459} />
        <rect x={649.5} y={35.5} width={614} height={459} />
        <rect x={11.5} y={531.5} width={614} height={459} />
        <rect x={649.5} y={531.5} width={614} height={459} />
      </g>
      <PanelG />
      <PanelH />
      <PanelI />
      <PanelJ />
    </svg>
  );
}
